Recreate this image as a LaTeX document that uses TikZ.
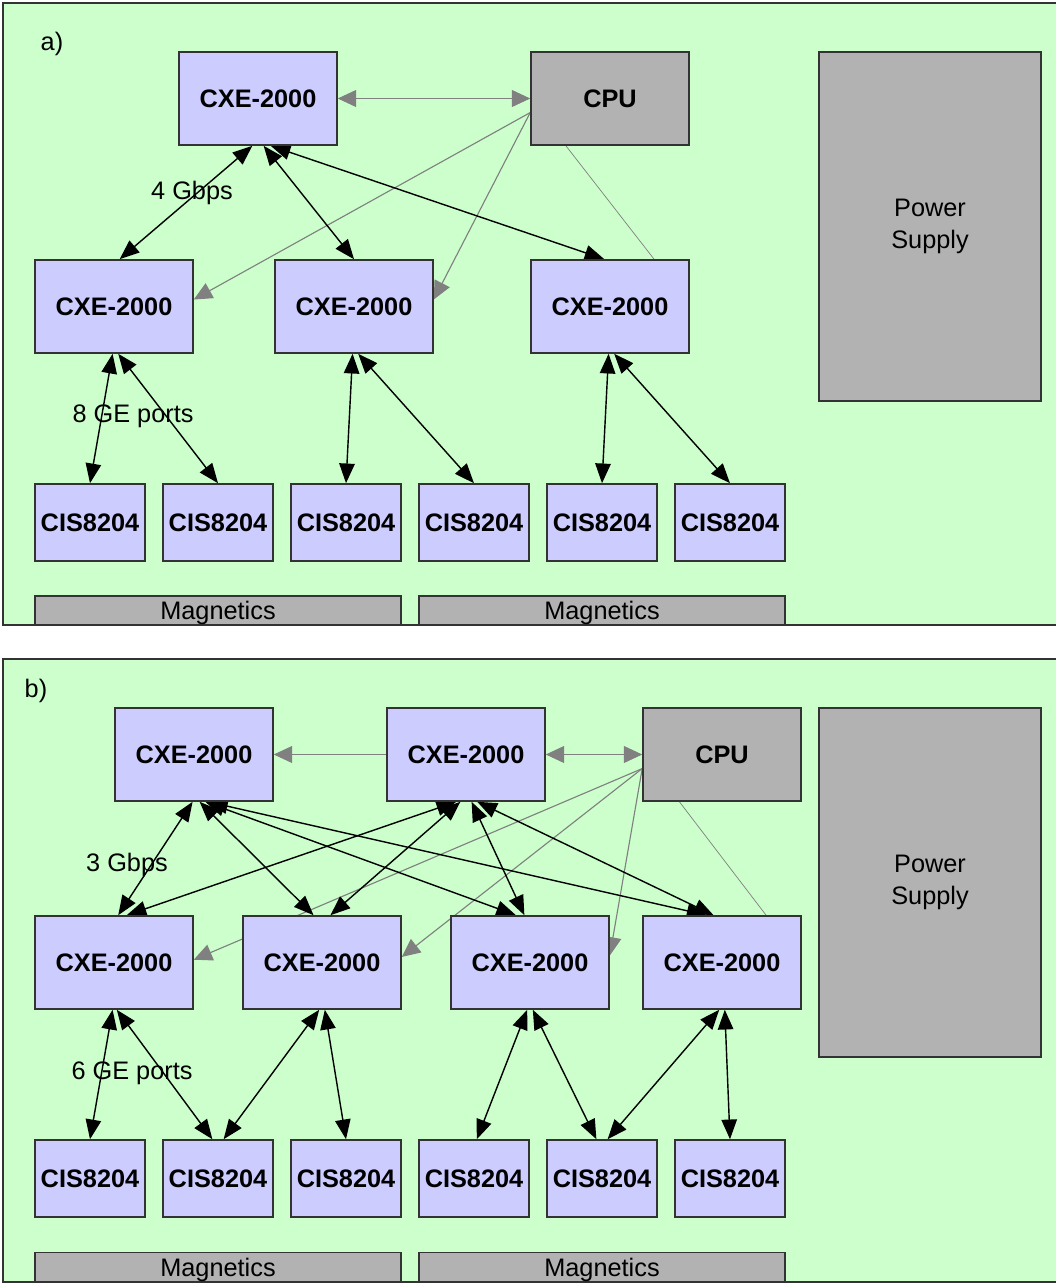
\documentclass[tikz,border=0pt]{standalone}
\usepackage{fontspec}
\setmainfont{Liberation Sans}
\usepackage{tikz}
\usetikzlibrary{arrows.meta, calc}
\usepackage{xcolor}
\definecolor{boardgreen}{HTML}{CCFFCC}
\definecolor{chipblue}{HTML}{CCCCFF}
\definecolor{partgray}{HTML}{B2B2B2}
\definecolor{rimgray}{HTML}{333333}
\definecolor{linkgray}{HTML}{808080}
\newcommand{\boardfont}{\fontsize{18}{22.8}\selectfont}
\pgfdeclarelayer{board}
\pgfdeclarelayer{links}
\pgfsetlayers{board,links,main}
\tikzset{
  chip/.style={draw=rimgray, line width=1.1pt, fill=chipblue, inner sep=0pt,
    minimum width=3.95cm, minimum height=2.325cm, font=\boardfont\bfseries},
  cis/.style={chip, minimum width=2.75cm, minimum height=1.925cm},
  cpu/.style={chip, fill=partgray},
  supply/.style={draw=rimgray, line width=1.1pt, fill=partgray, inner sep=0pt,
    minimum width=5.55cm, minimum height=8.725cm, align=center, font=\boardfont},
  magnet/.style={draw=rimgray, line width=1.1pt, fill=partgray, inner sep=0pt,
    minimum width=9.15cm, minimum height=0.725cm, text depth=0pt, font=\boardfont},
  lbl/.style={inner sep=0pt, font=\boardfont},
  fast/.style={<->, >={Triangle[length=14pt,width=11pt]}, line width=1pt, black},
  ctrl/.style={->, >={Triangle[length=13pt,width=12pt]}, line width=0.8pt, linkgray},
  ctrlboth/.style={ctrl, <->},
  sense/.style={line width=0.5pt, linkgray},
}

\begin{document}
\begin{tikzpicture}[x=0.025cm, y=-0.025cm]
    \useasboundingbox (0,0) rectangle (1055,1283);
    \begin{pgfonlayer}{board}
        \draw[rimgray, line width=1.1pt, fill=boardgreen] (3,3) rectangle (1070,625);
        \draw[rimgray, line width=1.1pt, fill=boardgreen] (3,659) rectangle (1070,1282);
    \end{pgfonlayer}

    % a)
    \node[lbl] (tagA) at (52,44) {a)};
    \node[chip] (topA) at (258,98.5) {CXE-2000};
    \node[cpu] (cpuA) at (610,98.5) {CPU};
    \node[supply] (psuA) at (930,226.5) {Power\\Supply};
    \node[chip] (cxeA1) at (114,306.5) {CXE-2000};
    \node[chip] (cxeA2) at (354,306.5) {CXE-2000};
    \node[chip] (cxeA3) at (610,306.5) {CXE-2000};
    \foreach \i/\x in {1/90, 2/218, 3/346, 4/474, 5/602, 6/730}
        \node[cis] (cisA\i) at (\x,522.5) {CIS8204};
    \node[magnet] (magA1) at (218,610.5) {Magnetics};
    \node[magnet] (magA2) at (602,610.5) {Magnetics};
    \node[lbl, anchor=base] (rateA) at (192,199) {4 Gbps};
    \node[lbl, anchor=base] (portA) at (133,422) {8 GE ports};

    \begin{pgfonlayer}{links}
        \draw[ctrlboth] (topA.east) -- (cpuA.west);
        \draw[ctrl] (cpuA.190) -- (cxeA1.5);
        \draw[ctrl] (cpuA.190) -- (cxeA2.5);
        \draw[sense] (cpuA.227) -- (cxeA3.47);
        \draw[fast] ([xshift=-4pt]topA.south) -- ([xshift=4pt]cxeA1.north);
        \draw[fast] ([xshift=4pt]topA.south) -- (cxeA2.north);
        \draw[fast] ([xshift=9pt]topA.south) -- ([xshift=-4pt]cxeA3.north);
        \foreach \j/\l/\r in {1/1/2, 2/3/4, 3/5/6} {
            \draw[fast] ([xshift=-1pt]cxeA\j.south) -- (cisA\l.north);
            \draw[fast] ([xshift=3pt]cxeA\j.south) -- (cisA\r.north);
        }
    \end{pgfonlayer}

    % b)
    \node[lbl] (tagB) at (36,691) {b)};
    \node[chip] (topB1) at (194,754.5) {CXE-2000};
    \node[chip] (topB2) at (466,754.5) {CXE-2000};
    \node[cpu] (cpuB) at (722,754.5) {CPU};
    \node[supply] (psuB) at (930,882.5) {Power\\Supply};
    \foreach \i/\x in {1/114, 2/322, 3/530, 4/722}
        \node[chip] (cxeB\i) at (\x,962.5) {CXE-2000};
    \foreach \i/\x in {1/90, 2/218, 3/346, 4/474, 5/602, 6/730}
        \node[cis] (cisB\i) at (\x,1178.5) {CIS8204};
    \node[magnet] (magB1) at (218,1267) {Magnetics};
    \node[magnet] (magB2) at (602,1267) {Magnetics};
    \node[lbl, anchor=base] (rateB) at (127,871) {3 Gbps};
    \node[lbl, anchor=base] (portB) at (132,1079) {6 GE ports};

    \begin{pgfonlayer}{links}
        \draw[ctrl] (topB2.west) -- (topB1.east);
        \draw[ctrlboth] (topB2.east) -- (cpuB.west);
        \draw[ctrl] (cpuB.190) -- (cxeB1.2);
        \draw[ctrl] (cpuB.190) -- (cxeB2.4);
        \draw[ctrl] (cpuB.190) -- (cxeB3.5);
        \draw[sense] (cpuB.228) -- (cxeB4.47);
        % links between the CXE chips
        \draw[fast] ([xshift=-1pt]topB1.south) -- ([xshift=3pt]cxeB1.north);
        \draw[fast] ([xshift=4pt]topB1.south) -- ([xshift=-6pt]cxeB2.north);
        \draw[fast] ([xshift=8pt]topB1.south) -- ([xshift=-10pt]cxeB3.north);
        \draw[fast] ([xshift=10pt]topB1.south) -- ([xshift=-11pt]cxeB4.north);
        \draw[fast] ([xshift=-7pt]topB2.south) -- ([xshift=9pt]cxeB1.north);
        \draw[fast] ([xshift=-4pt]topB2.south) -- ([xshift=6pt]cxeB2.north);
        \draw[fast] ([xshift=4pt]topB2.south) -- ([xshift=-4pt]cxeB3.north);
        \draw[fast] ([xshift=8pt]topB2.south) -- ([xshift=-6pt]cxeB4.north);
        % links down to the CIS8204
        \draw[fast] ([xshift=-1pt]cxeB1.south) -- (cisB1.north);
        \draw[fast] ([xshift=2pt]cxeB1.south) -- ([xshift=-4pt]cisB2.north);
        \draw[fast] ([xshift=-2pt]cxeB2.south) -- ([xshift=4pt]cisB2.north);
        \draw[fast] ([xshift=2pt]cxeB2.south) -- (cisB3.north);
        \draw[fast] ([xshift=-2pt]cxeB3.south) -- ([xshift=2pt]cisB4.north);
        \draw[fast] ([xshift=2pt]cxeB3.south) -- ([xshift=-4pt]cisB5.north);
        \draw[fast] ([xshift=-2pt]cxeB4.south) -- ([xshift=4pt]cisB5.north);
        \draw[fast] ([xshift=2pt]cxeB4.south) -- (cisB6.north);
    \end{pgfonlayer}
\end{tikzpicture}
\end{document}
